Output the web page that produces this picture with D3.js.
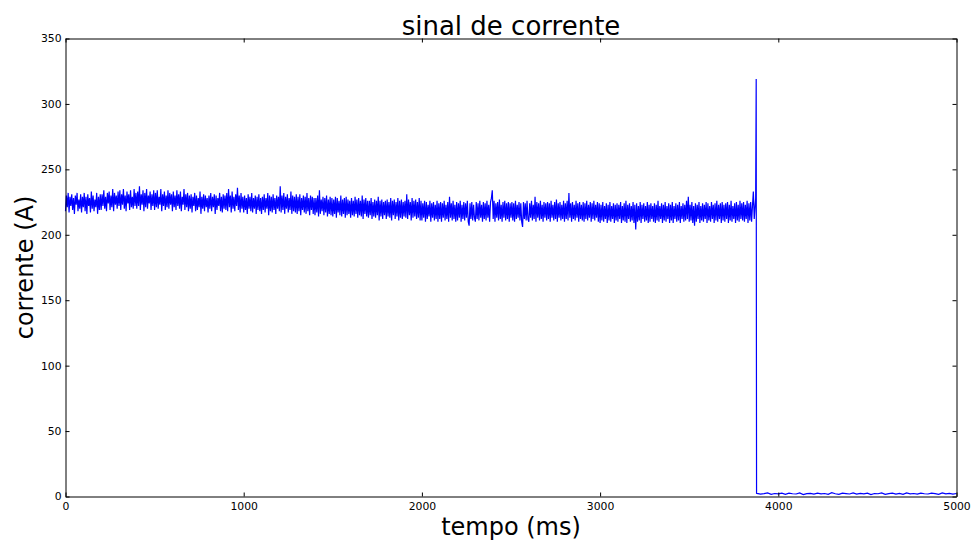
<!DOCTYPE html>
<html>
<head>
<meta charset="utf-8">
<script src="https://cdn.jsdelivr.net/npm/d3@7"></script>
<style>
  body { margin: 0; background: #fff; }
  svg { font-family: "DejaVu Sans", sans-serif; }
  .axis path, .axis line { stroke: #000; }
  .axis text { fill: #000; font-size: 10.8px; font-family: "DejaVu Sans", sans-serif; }
</style>
</head>
<body>
<div id="chart"></div>
<script>
// 1: DATA
// noisy part: one sample every 5 ms from 0 to 3870 ms
const noisyStart = 0;
const noisyStep = 5;
const noisyCurrent = [
  218,230,221,232,217,229,222,231,219,228,216,230,223,232,218,227,220,231,217,229,
  221,232,218,229,216,231,222,228,217,233,220,230,218,227,221,232,216,229,219,231,
  219,231,222,234,220,229,218,232,224,233,219,230,221,235,218,232,223,230,220,233,
  222,234,219,231,223,235,220,230,218,233,224,231,219,234,221,229,220,235,222,232,
  220,233,222,237,219,231,223,234,218,232,221,235,220,230,224,233,219,231,222,234,
  219,232,221,234,220,229,223,235,218,231,222,233,219,230,221,234,220,232,223,231,
  218,233,221,230,219,234,222,231,220,233,218,229,223,235,219,231,221,232,218,230,
  220,231,217,229,222,232,218,230,219,228,221,233,216,229,220,231,218,230,221,228,
  217,230,220,232,218,229,221,231,216,230,219,228,222,232,218,229,217,231,220,230,
  219,232,218,235,221,230,217,233,220,229,218,231,222,236,219,230,217,232,220,229,
  217,230,219,228,216,231,220,229,218,232,217,228,220,230,216,229,219,231,218,228,
  216,229,219,231,217,228,220,232,215,230,218,229,217,231,219,228,216,230,220,229,
  218,237,217,230,219,232,216,229,220,231,217,228,219,233,216,230,218,229,217,231,
  216,229,218,231,215,228,219,230,217,229,216,232,218,228,215,230,219,229,216,228,
  215,228,217,230,214,234,216,227,218,229,215,228,217,230,214,227,216,229,215,228,
  214,227,216,229,213,228,217,226,215,230,214,227,216,228,213,229,215,227,216,226,
  213,228,215,226,214,229,216,227,213,228,215,226,214,230,212,227,216,228,214,226,
  213,226,215,228,212,225,214,227,213,226,215,229,211,226,214,227,212,225,215,226,
  212,227,214,225,213,228,211,226,215,227,212,225,214,228,211,226,213,227,212,225,
  214,226,213,231,212,227,215,225,211,228,213,226,214,227,212,225,213,228,211,226,
  211,224,213,226,210,225,212,223,214,226,210,224,213,225,211,223,212,226,210,224,
  212,225,210,224,213,226,211,223,212,225,210,229,213,224,211,226,212,223,210,225,
  211,224,213,226,210,223,212,225,211,224,213,226,210,207,224,212,225,211,223,213,
  210,225,212,224,211,226,213,223,210,225,212,224,211,226,213,223,210,225,228,234,
  212,226,210,224,213,225,211,227,212,223,210,225,213,226,211,224,212,225,210,224,
  213,225,211,224,210,226,212,223,213,225,211,224,210,206,225,212,224,211,226,212,
  210,224,213,226,211,223,212,229,210,225,213,224,211,226,212,223,210,225,213,224,
  211,225,212,224,210,226,213,223,211,225,212,227,210,224,213,225,211,223,212,226,
  210,224,212,226,211,232,213,224,210,225,212,223,211,226,213,224,210,225,212,223,
  211,225,210,224,212,226,211,223,213,225,210,224,212,226,211,223,213,225,210,224,
  209,223,211,225,210,222,212,224,209,223,211,225,210,222,212,224,209,223,211,224,
  210,223,212,225,209,222,211,224,210,226,209,223,212,224,210,222,211,225,209,223,
  204,224,210,222,211,225,209,223,212,224,210,222,211,225,209,223,210,224,212,222,
  210,224,209,223,211,226,210,222,212,224,209,223,211,225,210,222,212,224,209,223,
  211,225,209,222,212,224,210,223,211,225,209,222,212,224,210,223,211,226,212,229,
  210,223,211,225,209,222,207,224,210,223,212,225,209,222,211,224,210,223,212,225,
  209,224,211,222,210,225,212,223,209,224,211,226,210,223,212,224,209,225,211,223,
  210,224,212,225,209,223,211,226,210,222,212,224,209,225,211,223,210,226,212,224,
  211,225,210,223,212,226,209,224,211,225,210,222,233,212,222
];

// transient around the switch-off
const transientTime = [3873, 3876, 3877, 3878];
const transientCurrent = [228, 319, 137, 2.5];

// residual current after the drop: one sample every 20 ms from 3880 to 5000 ms
const tailStart = 3880;
const tailStep = 20;
const tailCurrent = [
  2.4,1.8,2.2,2.7,1.6,2.3,2.0,2.6,1.7,2.5,
  2.1,1.9,2.8,1.5,2.2,2.4,1.8,2.6,2.0,2.3,
  1.7,2.9,2.1,1.6,2.5,2.2,1.9,2.7,1.8,2.4,
  2.0,2.6,1.5,2.3,2.1,2.8,1.7,2.2,2.5,1.9,
  2.4,1.6,2.7,2.0,2.3,1.8,2.6,2.1,1.9,2.5,
  2.2,1.7,2.8,2.0,2.4,1.8,2.3
];

const xTicks = [0, 1000, 2000, 3000, 4000, 5000];
const yTicks = [0, 50, 100, 150, 200, 250, 300, 350];

// 2: BUILD ONE SERIES {t, i}
const signal = [];
noisyCurrent.forEach((v, k) => signal.push({ t: noisyStart + k * noisyStep, i: v }));
transientTime.forEach((t, k) => signal.push({ t: t, i: transientCurrent[k] }));
tailCurrent.forEach((v, k) => signal.push({ t: tailStart + k * tailStep, i: v }));

// 3: SVG + SCALES
const W = 973, H = 545;
const plot = { left: 65.5, right: 956.5, top: 38.5, bottom: 496.5 };

const svg = d3.select("#chart").append("svg")
    .attr("width", W)
    .attr("height", H);

const xScale = d3.scaleLinear().domain([0, 5000]).range([plot.left, plot.right]);
const yScale = d3.scaleLinear().domain([0, 350]).range([plot.bottom, plot.top]);

// 4: LINE
svg.append("path")
    .datum(signal)
    .attr("d", d3.line().x(d => xScale(d.t)).y(d => yScale(d.i)))
    .style("fill", "none")
    .style("stroke", "#0000ff")
    .style("stroke-width", 1.2);

// 5: AXES (classic style: ticks inside, on all four sides)
svg.append("g")
    .attr("class", "axis")
    .attr("transform", `translate(0,${plot.bottom})`)
    .call(d3.axisBottom(xScale).tickValues(xTicks).tickFormat(d3.format("d"))
        .tickSizeInner(-4).tickSizeOuter(0).tickPadding(6));

svg.append("g")
    .attr("class", "axis")
    .attr("transform", `translate(${plot.left},0)`)
    .call(d3.axisLeft(yScale).tickValues(yTicks).tickFormat(d3.format("d"))
        .tickSizeInner(-4).tickSizeOuter(0).tickPadding(4));

svg.append("g")
    .attr("class", "axis")
    .attr("transform", `translate(0,${plot.top})`)
    .call(d3.axisTop(xScale).tickValues(xTicks).tickSizeInner(-4).tickSizeOuter(0).tickFormat(""));

svg.append("g")
    .attr("class", "axis")
    .attr("transform", `translate(${plot.right},0)`)
    .call(d3.axisRight(yScale).tickValues(yTicks).tickSizeInner(-4).tickSizeOuter(0).tickFormat(""));

// 6: LABELS
svg.append("text")
    .attr("x", (plot.left + plot.right) / 2)
    .attr("y", 35)
    .attr("text-anchor", "middle")
    .style("font-size", "26px")
    .text("sinal de corrente");

svg.append("text")
    .attr("x", (plot.left + plot.right) / 2)
    .attr("y", 535)
    .attr("text-anchor", "middle")
    .style("font-size", "24px")
    .text("tempo (ms)");

svg.append("text")
    .attr("transform", `translate(33,${(plot.top + plot.bottom) / 2}) rotate(-90)`)
    .attr("text-anchor", "middle")
    .style("font-size", "24px")
    .text("corrente (A)");
</script>
</body>
</html>
